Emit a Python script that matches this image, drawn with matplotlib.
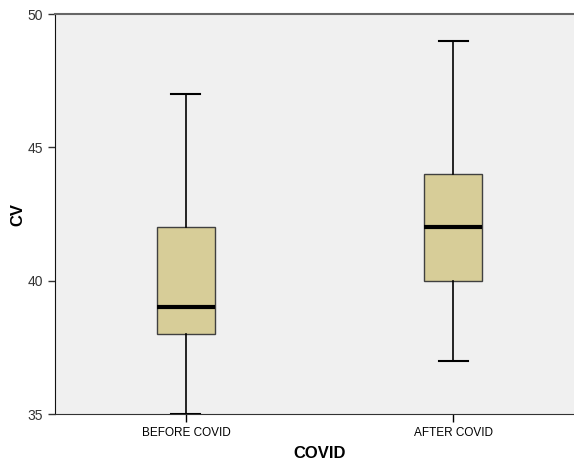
import matplotlib.pyplot as plt

plt.rcParams['font.family'] = ['Liberation Sans', 'DejaVu Sans']

groups = ['BEFORE COVID', 'AFTER COVID']
# five-number summaries: low whisker, q1, median, q3, high whisker
lows = [35, 37]
q1s = [38, 40]
medians = [39, 42]
q3s = [42, 44]
highs = [47, 49]

stats = []
for g, lo, a, m, b, hi in zip(groups, lows, q1s, medians, q3s, highs):
    stats.append({'label': g, 'whislo': lo, 'q1': a, 'med': m, 'q3': b, 'whishi': hi, 'fliers': []})

fig = plt.figure(figsize=(5.74, 4.63), dpi=100)
ax = fig.add_axes([55 / 574, 1 - 414 / 463, 529 / 574, 400 / 463])
ax.set_facecolor('#f0f0f0')

ax.bxp(stats, positions=[0, 1], widths=0.217, patch_artist=True, showfliers=False,
       boxprops=dict(facecolor='#d7cd98', edgecolor='#404040', linewidth=1),
       medianprops=dict(color='black', linewidth=3),
       whiskerprops=dict(color='black', linewidth=1.2),
       capprops=dict(color='black', linewidth=1.5))

ax.set_xlim(-0.49, 1.49)
ax.set_ylim(35, 50)
ax.set_yticks([35, 40, 45, 50])
ax.tick_params(axis='y', labelsize=10, length=5, width=1, colors='#333333')
ax.tick_params(axis='x', labelsize=8.5, length=6, width=1)
ax.spines['right'].set_visible(False)
ax.spines['top'].set_color('#666666')
ax.spines['top'].set_linewidth(1.5)
ax.spines['bottom'].set_color('#333333')
ax.spines['left'].set_color('#111111')

ax.set_ylabel('CV', fontsize=12, fontweight='bold')
ax.yaxis.set_label_coords(-(55 - 25) / 529, 0.5)
ax.set_xlabel('COVID', fontsize=12, fontweight='bold')
ax.xaxis.set_label_coords((320 - 55) / 529, -0.08)

fig.savefig('out.png', dpi=100)
